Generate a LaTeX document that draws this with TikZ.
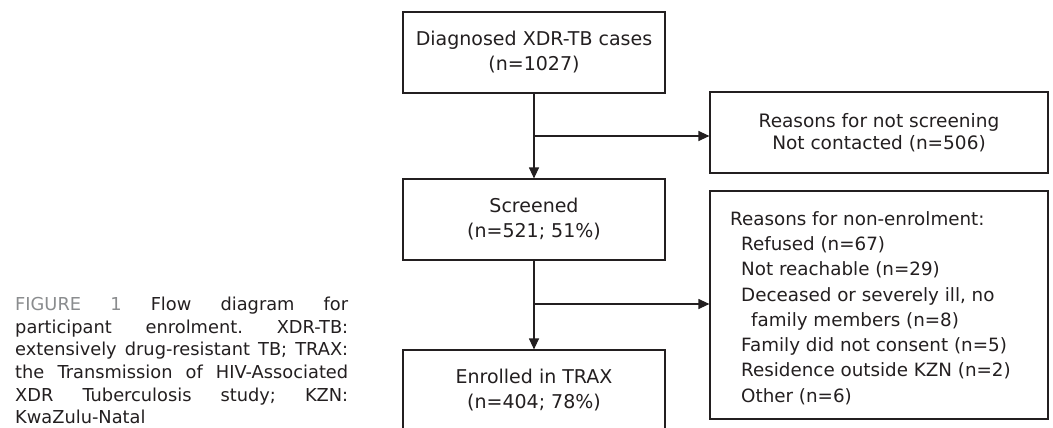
\documentclass[tikz,border=0pt]{standalone}
\usepackage{fontspec}
\setmainfont{DejaVu Sans}
\usetikzlibrary{arrows.meta}
\definecolor{ink}{HTML}{231F20}
\definecolor{capgray}{HTML}{8A8C8E}
\frenchspacing
\begin{document}
\begin{tikzpicture}[x=1pt,y=-1pt, font=\fontsize{19}{25}\selectfont, text=ink,
 box/.style={draw=ink, line width=1.2pt, minimum width=262pt, minimum height=81pt, inner sep=0pt, align=center},
 side/.style={draw=ink, line width=1.2pt, minimum width=338pt, inner sep=0pt, align=center},
 conn/.style={draw=ink, line width=1.2pt, -{Triangle[length=11pt,width=10pt]}}]
\useasboundingbox (0,0) rectangle (1053,428);
\clip (0,0) rectangle (1053,428);
\fill[white] (0,0) rectangle (1053,428);

\node[box] (diag) at (534,52.5) {Diagnosed XDR-TB cases\\(n=1027)};
\node[box] (scr) at (534,219.5) {Screened\\(n=521; 51\%)};
\node[box] (enr) at (534,390.5) {Enrolled in TRAX\\(n=404; 78\%)};

\node[side, minimum height=81pt, font=\fontsize{18.5}{22}\selectfont] (nots) at (879,132.5) {Reasons for not screening\\Not contacted (n=506)};
\node[side, minimum height=228pt] (none) at (879,305) {};
\node[anchor=west, align=left, inner sep=0pt, font=\fontsize{18.3}{25.3}\selectfont] (nonetext) at (730,308) {Reasons for non-enrolment:\\
\hspace*{11pt}Refused (n=67)\\
\hspace*{11pt}Not reachable (n=29)\\
\hspace*{11pt}Deceased or severely ill, no\\
\hspace*{21pt}family members (n=8)\\
\hspace*{11pt}Family did not consent (n=5)\\
\hspace*{11pt}Residence outside KZN (n=2)\\
\hspace*{11pt}Other (n=6)};

\coordinate (b1) at (diag.south |- 0,136);
\coordinate (b2) at (scr.south |- 0,304);
\draw[conn] (diag.south) -- (scr.north);
\draw[conn] (b1) -- (b1 -| nots.west);
\draw[conn] (scr.south) -- (enr.north);
\draw[conn] (b2) -- (b2 -| none.west);

\node[anchor=north west, inner sep=0pt, text width=333pt, align=justify,
      font=\fontsize{17.8}{22.6}\selectfont] (cap) at (15,297)
 {{\color{capgray}FIGURE 1} Flow diagram for\linebreak
 participant enrolment. XDR-TB:\linebreak
 extensively drug-resistant TB; TRAX:\linebreak
 the Transmission of HIV-Associated\linebreak
 XDR Tuberculosis study; KZN:\linebreak
 KwaZulu-Natal};
\end{tikzpicture}
\end{document}
